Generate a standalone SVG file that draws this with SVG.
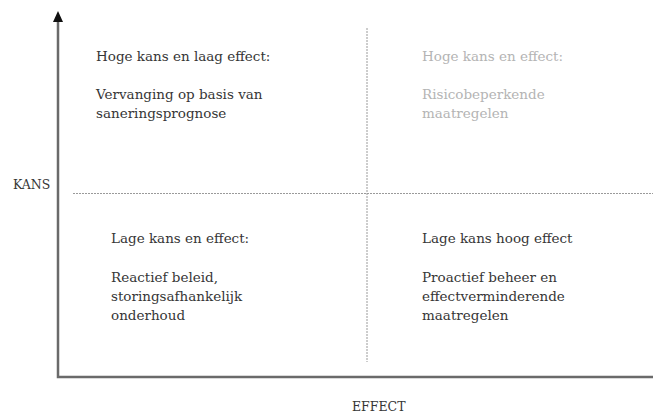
<svg xmlns="http://www.w3.org/2000/svg" width="653" height="414" viewBox="0 0 653 414">
<style>
text{font-family:"DejaVu Serif","Liberation Serif",serif;font-size:13.5px;fill:#363636}
.g text{fill:#b4b4b4}
.lab{font-size:12.5px}
.ax{stroke:#6a6a6a;stroke-width:2.5;fill:none}
.dash{stroke:#9a9a9a;stroke-width:1;stroke-dasharray:2,1;fill:none}
</style>
<rect width="653" height="414" fill="#fff"/>
<g id="connectors">
<line class="dash" x1="367" y1="28" x2="367" y2="362"/>
<line class="dash" x1="73" y1="193.5" x2="653" y2="193.5"/>
<path class="ax" d="M58,21 L58,377 L653,377"/>
<path d="M53,22 L58,11 L63,22 Z" fill="#111"/>
</g>
<g id="q-hoog-laag">
<text x="96" y="61">Hoge kans en laag effect:</text>
<text x="96" y="98.5">Vervanging op basis van</text>
<text x="96" y="118">saneringsprognose</text>
</g>
<g id="q-hoog-hoog" class="g">
<text x="422" y="61">Hoge kans en effect:</text>
<text x="422" y="98.5">Risicobeperkende</text>
<text x="422" y="118">maatregelen</text>
</g>
<g id="q-laag-laag">
<text x="111" y="243">Lage kans en effect:</text>
<text x="111" y="282">Reactief beleid,</text>
<text x="111" y="301">storingsafhankelijk</text>
<text x="111" y="320">onderhoud</text>
</g>
<g id="q-laag-hoog">
<text x="422" y="243">Lage kans hoog effect</text>
<text x="422" y="282">Proactief beheer en</text>
<text x="422" y="301">effectverminderende</text>
<text x="422" y="320">maatregelen</text>
</g>
<g id="labels">
<text class="lab" x="13" y="189">KANS</text>
<text class="lab" x="352" y="411">EFFECT</text>
</g>
</svg>
